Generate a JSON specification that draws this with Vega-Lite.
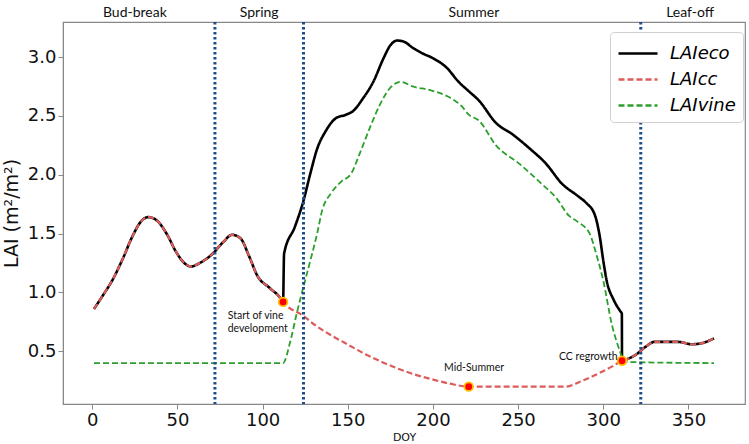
{
  "$schema": "https://vega.github.io/schema/vega-lite/v6.json",
  "width": 682,
  "height": 382,
  "autosize": "none",
  "padding": {"left": 63, "top": 22, "right": 4, "bottom": 40},
  "background": "white",
  "config": {
    "view": {"stroke": "#888888", "strokeWidth": 1.2},
    "font": "DejaVu Sans",
    "axis": {"grid": false, "domainColor": "#888888", "tickColor": "#888888", "tickSize": 5, "labelColor": "#111111", "labelFontSize": 18, "labelFont": "DejaVu Sans", "titleFont": "DejaVu Sans", "titleFontWeight": "normal", "titleColor": "#111111"},
    "legend": {"orient": "none", "legendX": 547, "legendY": 10, "labelFont": "DejaVu Sans", "labelFontSize": 18, "labelFontStyle": "italic", "labelColor": "#000000", "symbolType": "M-1,0H2", "symbolSize": 676, "symbolStrokeWidth": 2.5, "strokeColor": "#d0d0d0", "fillColor": "white", "padding": 7, "cornerRadius": 4, "rowPadding": 2, "labelOffset": 24}
  },
  "datasets": {
    "eco": [
      {"s":"LAIeco","doy":1,"lai":0.86},{"s":"LAIeco","doy":6,"lai":0.97},{"s":"LAIeco","doy":12,"lai":1.11},{"s":"LAIeco","doy":18,"lai":1.29},{"s":"LAIeco","doy":24,"lai":1.49},{"s":"LAIeco","doy":29,"lai":1.61},{"s":"LAIeco","doy":33,"lai":1.64},{"s":"LAIeco","doy":38,"lai":1.61},{"s":"LAIeco","doy":44,"lai":1.49},{"s":"LAIeco","doy":49,"lai":1.35},{"s":"LAIeco","doy":54,"lai":1.25},{"s":"LAIeco","doy":58,"lai":1.22},{"s":"LAIeco","doy":63,"lai":1.25},{"s":"LAIeco","doy":70,"lai":1.32},{"s":"LAIeco","doy":77,"lai":1.43},{"s":"LAIeco","doy":82,"lai":1.49},{"s":"LAIeco","doy":87,"lai":1.46},{"s":"LAIeco","doy":92,"lai":1.31},{"s":"LAIeco","doy":97,"lai":1.14},{"s":"LAIeco","doy":104,"lai":1.04},{"s":"LAIeco","doy":110,"lai":0.96},{"s":"LAIeco","doy":112,"lai":0.92},
      {"s":"LAIeco","doy":112.6,"lai":1.33},{"s":"LAIeco","doy":119,"lai":1.56},{"s":"LAIeco","doy":124,"lai":1.78},{"s":"LAIeco","doy":128,"lai":2.01},{"s":"LAIeco","doy":132,"lai":2.22},{"s":"LAIeco","doy":137,"lai":2.37},{"s":"LAIeco","doy":143,"lai":2.48},{"s":"LAIeco","doy":149,"lai":2.51},{"s":"LAIeco","doy":153,"lai":2.54},{"s":"LAIeco","doy":159,"lai":2.65},{"s":"LAIeco","doy":165,"lai":2.79},{"s":"LAIeco","doy":171,"lai":2.99},{"s":"LAIeco","doy":175,"lai":3.10},{"s":"LAIeco","doy":179,"lai":3.14},{"s":"LAIeco","doy":183,"lai":3.13},{"s":"LAIeco","doy":188,"lai":3.08},{"s":"LAIeco","doy":194,"lai":3.03},{"s":"LAIeco","doy":200,"lai":2.99},{"s":"LAIeco","doy":208,"lai":2.91},{"s":"LAIeco","doy":215,"lai":2.79},{"s":"LAIeco","doy":221,"lai":2.71},{"s":"LAIeco","doy":227,"lai":2.63},{"s":"LAIeco","doy":237,"lai":2.44},{"s":"LAIeco","doy":247,"lai":2.34},{"s":"LAIeco","doy":257,"lai":2.22},{"s":"LAIeco","doy":266,"lai":2.10},{"s":"LAIeco","doy":276,"lai":1.92},{"s":"LAIeco","doy":285,"lai":1.82},{"s":"LAIeco","doy":290,"lai":1.76},{"s":"LAIeco","doy":295,"lai":1.66},{"s":"LAIeco","doy":298,"lai":1.47},{"s":"LAIeco","doy":300,"lai":1.27},{"s":"LAIeco","doy":302,"lai":1.10},{"s":"LAIeco","doy":306,"lai":0.94},{"s":"LAIeco","doy":310,"lai":0.84},{"s":"LAIeco","doy":310.9,"lai":0.82},{"s":"LAIeco","doy":311,"lai":0.42},{"s":"LAIeco","doy":315,"lai":0.44},{"s":"LAIeco","doy":319,"lai":0.47},{"s":"LAIeco","doy":325,"lai":0.54},{"s":"LAIeco","doy":330,"lai":0.58},{"s":"LAIeco","doy":337,"lai":0.58},{"s":"LAIeco","doy":344,"lai":0.58},{"s":"LAIeco","doy":352,"lai":0.56},{"s":"LAIeco","doy":358,"lai":0.57},{"s":"LAIeco","doy":365,"lai":0.61}
    ],
    "cc": [
      {"s":"LAIcc","doy":1,"lai":0.86},{"s":"LAIcc","doy":6,"lai":0.97},{"s":"LAIcc","doy":12,"lai":1.11},{"s":"LAIcc","doy":18,"lai":1.29},{"s":"LAIcc","doy":24,"lai":1.49},{"s":"LAIcc","doy":29,"lai":1.61},{"s":"LAIcc","doy":33,"lai":1.64},{"s":"LAIcc","doy":38,"lai":1.61},{"s":"LAIcc","doy":44,"lai":1.49},{"s":"LAIcc","doy":49,"lai":1.35},{"s":"LAIcc","doy":54,"lai":1.25},{"s":"LAIcc","doy":58,"lai":1.22},{"s":"LAIcc","doy":63,"lai":1.25},{"s":"LAIcc","doy":70,"lai":1.32},{"s":"LAIcc","doy":77,"lai":1.43},{"s":"LAIcc","doy":82,"lai":1.49},{"s":"LAIcc","doy":87,"lai":1.46},{"s":"LAIcc","doy":92,"lai":1.31},{"s":"LAIcc","doy":97,"lai":1.14},{"s":"LAIcc","doy":104,"lai":1.04},{"s":"LAIcc","doy":110,"lai":0.96},{"s":"LAIcc","doy":112,"lai":0.92},
      {"s":"LAIcc","doy":124,"lai":0.80},{"s":"LAIcc","doy":131,"lai":0.72},{"s":"LAIcc","doy":141,"lai":0.63},{"s":"LAIcc","doy":151,"lai":0.55},{"s":"LAIcc","doy":161,"lai":0.47},{"s":"LAIcc","doy":170,"lai":0.41},{"s":"LAIcc","doy":180,"lai":0.35},{"s":"LAIcc","doy":190,"lai":0.30},{"s":"LAIcc","doy":200,"lai":0.26},{"s":"LAIcc","doy":210,"lai":0.225},{"s":"LAIcc","doy":221,"lai":0.2},{"s":"LAIcc","doy":278,"lai":0.2},{"s":"LAIcc","doy":286,"lai":0.24},{"s":"LAIcc","doy":294,"lai":0.29},{"s":"LAIcc","doy":305,"lai":0.37},{"s":"LAIcc","doy":311,"lai":0.42},{"s":"LAIcc","doy":315,"lai":0.44},{"s":"LAIcc","doy":319,"lai":0.47},{"s":"LAIcc","doy":325,"lai":0.54},{"s":"LAIcc","doy":330,"lai":0.58},{"s":"LAIcc","doy":337,"lai":0.58},{"s":"LAIcc","doy":344,"lai":0.58},{"s":"LAIcc","doy":352,"lai":0.56},{"s":"LAIcc","doy":358,"lai":0.57},{"s":"LAIcc","doy":365,"lai":0.61}
    ],
    "vine": [
      {"s":"LAIvine","doy":1,"lai":0.4},{"s":"LAIvine","doy":112,"lai":0.4},{"s":"LAIvine","doy":116,"lai":0.57},{"s":"LAIvine","doy":120,"lai":0.82},{"s":"LAIvine","doy":124,"lai":1.05},{"s":"LAIvine","doy":128,"lai":1.27},{"s":"LAIvine","doy":132,"lai":1.50},{"s":"LAIvine","doy":135,"lai":1.70},{"s":"LAIvine","doy":140,"lai":1.84},{"s":"LAIvine","doy":146,"lai":1.94},{"s":"LAIvine","doy":152,"lai":2.01},{"s":"LAIvine","doy":157,"lai":2.18},{"s":"LAIvine","doy":163,"lai":2.40},{"s":"LAIvine","doy":169,"lai":2.60},{"s":"LAIvine","doy":175,"lai":2.74},{"s":"LAIvine","doy":181,"lai":2.79},{"s":"LAIvine","doy":188,"lai":2.75},{"s":"LAIvine","doy":198,"lai":2.72},{"s":"LAIvine","doy":208,"lai":2.67},{"s":"LAIvine","doy":217,"lai":2.58},{"s":"LAIvine","doy":221,"lai":2.51},{"s":"LAIvine","doy":227,"lai":2.46},{"s":"LAIvine","doy":237,"lai":2.25},{"s":"LAIvine","doy":251,"lai":2.09},{"s":"LAIvine","doy":264,"lai":1.92},{"s":"LAIvine","doy":272,"lai":1.81},{"s":"LAIvine","doy":280,"lai":1.65},{"s":"LAIvine","doy":285,"lai":1.60},{"s":"LAIvine","doy":292,"lai":1.50},{"s":"LAIvine","doy":296,"lai":1.32},{"s":"LAIvine","doy":300,"lai":1.10},{"s":"LAIvine","doy":305,"lai":0.73},{"s":"LAIvine","doy":310,"lai":0.49},{"s":"LAIvine","doy":312,"lai":0.41},{"s":"LAIvine","doy":365,"lai":0.4}
    ],
    "vlines": [{"doy":72},{"doy":124},{"doy":322}],
    "events": [{"doy":112,"lai":0.92},{"doy":221,"lai":0.2},{"doy":311,"lai":0.42}],
    "seasons": [{"doy":25,"lai":3.37,"label":"Bud-break"},{"doy":98,"lai":3.37,"label":"Spring"},{"doy":224,"lai":3.37,"label":"Summer"},{"doy":351,"lai":3.37,"label":"Leaf-off"}],
    "notes": [{"doy":79.5,"lai":0.845,"label":"Start of vine\ndevelopment"},{"doy":206.5,"lai":0.4,"label":"Mid-Summer"},{"doy":274,"lai":0.49,"label":"CC regrowth"}]
  },
  "layer": [
    {
      "data": {"name": "eco"},
      "mark": {"type": "line", "strokeWidth": 2.6, "interpolate": "monotone"},
      "encoding": {
        "x": {"field": "doy", "type": "quantitative", "scale": {"domain": [-17.2, 383.2], "nice": false, "zero": false}, "axis": {"values": [0,50,100,150,200,250,300,350], "title": "DOY", "titleFontSize": 11, "titlePadding": 2, "labelPadding": 2}},
        "y": {"field": "lai", "type": "quantitative", "scale": {"domain": [0.0525, 3.2975], "nice": false, "zero": false}, "axis": {"values": [0.5,1,1.5,2,2.5,3], "format": ".1f", "title": "LAI (m²/m²)", "titleFontSize": 19, "titlePadding": 6, "labelPadding": 2}},
        "color": {"field": "s", "type": "nominal", "scale": {"domain": ["LAIeco","LAIcc","LAIvine"], "range": ["#000000","#de5b5b","#2ca02c"]}, "legend": {"title": null}},
        "strokeDash": {"field": "s", "type": "nominal", "scale": {"domain": ["LAIeco","LAIcc","LAIvine"], "range": [[1,0],[6,3],[6,3]]}, "legend": {"title": null}}
      }
    },
    {
      "data": {"name": "cc"},
      "mark": {"type": "line", "strokeWidth": 2.2, "interpolate": "monotone"},
      "encoding": {
        "x": {"field": "doy", "type": "quantitative"},
        "y": {"field": "lai", "type": "quantitative"},
        "color": {"field": "s", "type": "nominal", "legend": {"title": null}},
        "strokeDash": {"field": "s", "type": "nominal", "legend": {"title": null}}
      }
    },
    {
      "data": {"name": "vine"},
      "mark": {"type": "line", "strokeWidth": 1.8, "interpolate": "monotone"},
      "encoding": {
        "x": {"field": "doy", "type": "quantitative"},
        "y": {"field": "lai", "type": "quantitative"},
        "color": {"field": "s", "type": "nominal", "legend": {"title": null}},
        "strokeDash": {"field": "s", "type": "nominal", "legend": {"title": null}}
      }
    },
    {
      "data": {"name": "vlines"},
      "mark": {"type": "rule", "color": "#1f4e8c", "strokeWidth": 3, "strokeDash": [2.5, 2.5]},
      "encoding": {"x": {"field": "doy", "type": "quantitative"}}
    },
    {
      "data": {"name": "events"},
      "mark": {"type": "point", "filled": true, "fill": "#ff0000", "stroke": "#ffc000", "strokeWidth": 1.8, "size": 75, "opacity": 1},
      "encoding": {
        "x": {"field": "doy", "type": "quantitative"},
        "y": {"field": "lai", "type": "quantitative"}
      }
    },
    {
      "data": {"name": "seasons"},
      "mark": {"type": "text", "font": "Lato", "fontSize": 14, "color": "#111111", "align": "center", "baseline": "middle"},
      "encoding": {
        "x": {"field": "doy", "type": "quantitative"},
        "y": {"field": "lai", "type": "quantitative"},
        "text": {"field": "label"}
      }
    },
    {
      "data": {"name": "notes"},
      "mark": {"type": "text", "font": "Lato", "fontSize": 10.5, "color": "#111111", "align": "left", "baseline": "top", "lineBreak": "\n", "lineHeight": 13},
      "encoding": {
        "x": {"field": "doy", "type": "quantitative"},
        "y": {"field": "lai", "type": "quantitative"},
        "text": {"field": "label"}
      }
    }
  ]
}
